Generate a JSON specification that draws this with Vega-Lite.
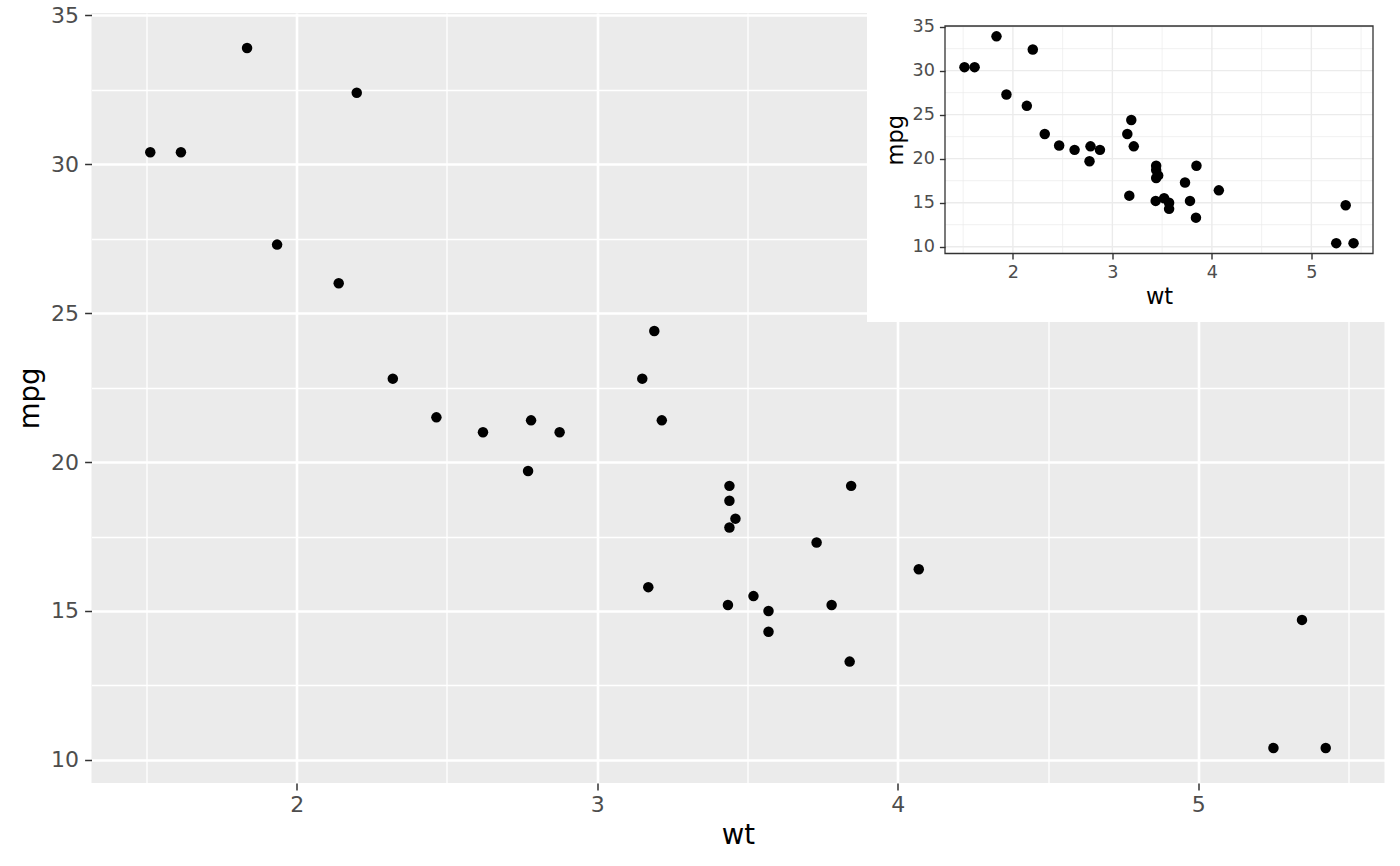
{
  "$schema": "https://vega.github.io/schema/vega-lite/v6.json",
  "width": 1293,
  "height": 770,
  "autosize": {"type": "none"},
  "padding": {"left": 91.5, "top": 13, "right": 15.5, "bottom": 83},
  "background": "white",
  "config": {"view": {"fill": "#EBEBEB", "stroke": null}, "font": "DejaVu Sans"},
  "datasets": {
    "cars": [
      {"car": "Mazda RX4", "wt": 2.62, "mpg": 21.0},
      {"car": "Mazda RX4 Wag", "wt": 2.875, "mpg": 21.0},
      {"car": "Datsun 710", "wt": 2.32, "mpg": 22.8},
      {"car": "Hornet 4 Drive", "wt": 3.215, "mpg": 21.4},
      {"car": "Hornet Sportabout", "wt": 3.44, "mpg": 18.7},
      {"car": "Valiant", "wt": 3.46, "mpg": 18.1},
      {"car": "Duster 360", "wt": 3.57, "mpg": 14.3},
      {"car": "Merc 240D", "wt": 3.19, "mpg": 24.4},
      {"car": "Merc 230", "wt": 3.15, "mpg": 22.8},
      {"car": "Merc 280", "wt": 3.44, "mpg": 19.2},
      {"car": "Merc 280C", "wt": 3.44, "mpg": 17.8},
      {"car": "Merc 450SE", "wt": 4.07, "mpg": 16.4},
      {"car": "Merc 450SL", "wt": 3.73, "mpg": 17.3},
      {"car": "Merc 450SLC", "wt": 3.78, "mpg": 15.2},
      {"car": "Cadillac Fleetwood", "wt": 5.25, "mpg": 10.4},
      {"car": "Lincoln Continental", "wt": 5.424, "mpg": 10.4},
      {"car": "Chrysler Imperial", "wt": 5.345, "mpg": 14.7},
      {"car": "Fiat 128", "wt": 2.2, "mpg": 32.4},
      {"car": "Honda Civic", "wt": 1.615, "mpg": 30.4},
      {"car": "Toyota Corolla", "wt": 1.835, "mpg": 33.9},
      {"car": "Toyota Corona", "wt": 2.465, "mpg": 21.5},
      {"car": "Dodge Challenger", "wt": 3.52, "mpg": 15.5},
      {"car": "AMC Javelin", "wt": 3.435, "mpg": 15.2},
      {"car": "Camaro Z28", "wt": 3.84, "mpg": 13.3},
      {"car": "Pontiac Firebird", "wt": 3.845, "mpg": 19.2},
      {"car": "Fiat X1-9", "wt": 1.935, "mpg": 27.3},
      {"car": "Porsche 914-2", "wt": 2.14, "mpg": 26.0},
      {"car": "Lotus Europa", "wt": 1.513, "mpg": 30.4},
      {"car": "Ford Pantera L", "wt": 3.17, "mpg": 15.8},
      {"car": "Ferrari Dino", "wt": 2.77, "mpg": 19.7},
      {"car": "Maserati Bora", "wt": 3.57, "mpg": 15.0},
      {"car": "Volvo 142E", "wt": 2.78, "mpg": 21.4}
    ],
    "xgrid": [{"v": 1.5}, {"v": 2}, {"v": 2.5}, {"v": 3}, {"v": 3.5}, {"v": 4}, {"v": 4.5}, {"v": 5}, {"v": 5.5}],
    "ygrid": [{"v": 10}, {"v": 12.5}, {"v": 15}, {"v": 17.5}, {"v": 20}, {"v": 22.5}, {"v": 25}, {"v": 27.5}, {"v": 30}, {"v": 32.5}, {"v": 35}]
  },
  "layer": [
    {
      "data": {"name": "cars"},
      "mark": {"type": "point", "filled": true, "size": 110, "color": "black", "opacity": 1},
      "encoding": {
        "x": {
          "field": "wt", "type": "quantitative",
          "scale": {"domain": [1.31745, 5.61955], "nice": false, "zero": false},
          "axis": {
            "title": "wt", "orient": "bottom", "grid": true,
            "values": [1.5, 2, 2.5, 3, 3.5, 4, 4.5, 5, 5.5],
            "labelExpr": "datum.value % 1 === 0 ? format(datum.value, 'd') : ''",
            "domain": false,
            "gridColor": "white",
            "gridWidth": {"condition": {"test": "datum.value % 1 === 0", "value": 2.6}, "value": 1.3},
            "tickOpacity": {"condition": {"test": "datum.value % 1 === 0", "value": 1}, "value": 0},
            "tickColor": "#333333", "tickSize": 6.9, "tickWidth": 1.5,
            "labelColor": "#4D4D4D", "labelFontSize": 22, "labelPadding": 5,
            "titleColor": "black", "titleFontSize": 27.5, "titleFontWeight": "normal", "titlePadding": 6
          }
        },
        "y": {
          "field": "mpg", "type": "quantitative",
          "scale": {"domain": [9.225, 35.075], "nice": false, "zero": false},
          "axis": {
            "title": "mpg", "orient": "left", "grid": true,
            "values": [10, 12.5, 15, 17.5, 20, 22.5, 25, 27.5, 30, 32.5, 35],
            "labelExpr": "datum.value % 5 === 0 ? format(datum.value, 'd') : ''",
            "domain": false,
            "gridColor": "white",
            "gridWidth": {"condition": {"test": "datum.value % 5 === 0", "value": 2.6}, "value": 1.3},
            "tickOpacity": {"condition": {"test": "datum.value % 5 === 0", "value": 1}, "value": 0},
            "tickColor": "#333333", "tickSize": 6.9, "tickWidth": 1.5,
            "labelColor": "#4D4D4D", "labelFontSize": 22, "labelPadding": 6,
            "titleColor": "black", "titleFontSize": 27.5, "titleFontWeight": "normal", "titlePadding": 6
          }
        }
      }
    },
    {
      "data": {"values": [{}]},
      "mark": {"type": "rect", "color": "white", "clip": false},
      "encoding": {
        "x": {"datum": 0.5334, "type": "quantitative", "scale": {"domain": [1.31745, 5.61955], "range": [853.5, 1281.5], "nice": false, "zero": false}, "axis": null},
        "x2": {"datum": 5.891},
        "y": {"datum": 1.442, "type": "quantitative", "scale": {"domain": [9.225, 35.075], "range": [240.5, 13], "nice": false, "zero": false}, "axis": null},
        "y2": {"datum": 38.029}
      }
    },
    {
      "data": {"name": "xgrid"},
      "mark": {"type": "rule", "color": "#EBEBEB"},
      "encoding": {
        "x": {"field": "v", "type": "quantitative", "scale": {"domain": [1.31745, 5.61955], "range": [853.5, 1281.5], "nice": false, "zero": false}, "axis": null},
        "y": {"datum": 9.225, "type": "quantitative", "scale": {"domain": [9.225, 35.075], "range": [240.5, 13], "nice": false, "zero": false}, "axis": null},
        "y2": {"datum": 35.075},
        "strokeWidth": {"condition": {"test": "datum.v % 1 === 0", "value": 1.4}, "value": 0.7}
      }
    },
    {
      "data": {"name": "ygrid"},
      "mark": {"type": "rule", "color": "#EBEBEB"},
      "encoding": {
        "y": {"field": "v", "type": "quantitative", "scale": {"domain": [9.225, 35.075], "range": [240.5, 13], "nice": false, "zero": false}, "axis": null},
        "x": {"datum": 1.31745, "type": "quantitative", "scale": {"domain": [1.31745, 5.61955], "range": [853.5, 1281.5], "nice": false, "zero": false}, "axis": null},
        "x2": {"datum": 5.61955},
        "strokeWidth": {"condition": {"test": "datum.v % 5 === 0", "value": 1.4}, "value": 0.7}
      }
    },
    {
      "data": {"name": "cars"},
      "mark": {"type": "point", "filled": true, "size": 110, "color": "black", "opacity": 1},
      "encoding": {
        "x": {
          "field": "wt", "type": "quantitative",
          "scale": {"domain": [1.31745, 5.61955], "range": [853.5, 1281.5], "nice": false, "zero": false},
          "axis": {
            "title": "wt", "orient": "bottom", "values": [2, 3, 4, 5], "format": "d",
            "grid": false, "domain": false, "offset": -529.5, "zindex": 2,
            "tickColor": "#333333", "tickSize": 5.6, "tickWidth": 1.4,
            "labelColor": "#4D4D4D", "labelFontSize": 17.6, "labelPadding": 4,
            "titleColor": "black", "titleFontSize": 22.5, "titleFontWeight": "normal", "titlePadding": 5
          }
        },
        "y": {
          "field": "mpg", "type": "quantitative",
          "scale": {"domain": [9.225, 35.075], "range": [240.5, 13], "nice": false, "zero": false},
          "axis": {
            "title": "mpg", "orient": "left", "values": [10, 15, 20, 25, 30, 35], "format": "d",
            "grid": false, "domain": false, "offset": -853.5, "zindex": 2,
            "tickColor": "#333333", "tickSize": 5.6, "tickWidth": 1.4,
            "labelColor": "#4D4D4D", "labelFontSize": 17.6, "labelPadding": 5,
            "titleColor": "black", "titleFontSize": 22.5, "titleFontWeight": "normal", "titlePadding": 5
          }
        }
      }
    },
    {
      "data": {"values": [{}]},
      "mark": {"type": "rect", "fill": null, "stroke": "#333333", "strokeWidth": 1.3},
      "encoding": {
        "x": {"datum": 1.31745, "type": "quantitative", "scale": {"domain": [1.31745, 5.61955], "range": [853.5, 1281.5], "nice": false, "zero": false}, "axis": null},
        "x2": {"datum": 5.61955},
        "y": {"datum": 9.225, "type": "quantitative", "scale": {"domain": [9.225, 35.075], "range": [240.5, 13], "nice": false, "zero": false}, "axis": null},
        "y2": {"datum": 35.075}
      }
    }
  ],
  "resolve": {"scale": {"x": "independent", "y": "independent"}}
}
